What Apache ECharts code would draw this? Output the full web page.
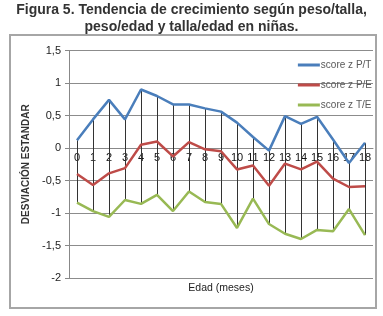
<!DOCTYPE html>
<html><head><meta charset="utf-8">
<script src="https://cdn.jsdelivr.net/npm/echarts@6/dist/echarts.min.js"></script>
<style>html,body{margin:0;padding:0;background:#fff}#c{width:383px;height:316px}</style>
</head><body><div id="c"></div>
<script>
const categories = ['0','1','2','3','4','5','6','7','8','9','10','11','12','13','14','15','16','17','18'];
const scorePT = [0.12,0.44,0.74,0.44,0.90,0.80,0.67,0.67,0.61,0.56,0.39,0.17,-0.04,0.49,0.37,0.48,0.13,-0.23,0.08];
const scorePE = [-0.40,-0.57,-0.39,-0.31,0.05,0.10,-0.13,0.09,-0.02,-0.05,-0.33,-0.27,-0.58,-0.24,-0.33,-0.21,-0.47,-0.60,-0.59];
const scoreTE = [-0.84,-0.97,-1.06,-0.80,-0.86,-0.72,-0.97,-0.67,-0.83,-0.86,-1.23,-0.78,-1.17,-1.32,-1.40,-1.26,-1.28,-0.94,-1.34];
const seriesNames = ['score z P/T','score z P/E','score z T/E'];

const hiLo = categories.map((c,i)=>{
  const v=[scorePT[i],scorePE[i],scoreTE[i]];
  return [i, Math.max(...v), Math.min(...v)];
});
const font = "'Liberation Sans Narrow','Liberation Sans',Arial,sans-serif";
const chart = echarts.init(document.getElementById('c'));
chart.setOption({
  animation:false,
  title:{text:'Figura 5. Tendencia de crecimiento según peso/talla,\npeso/edad y talla/edad en niñas.',
    left:'center', top:-3,
    textStyle:{fontFamily:'Liberation Sans, Arial, sans-serif',fontWeight:'bold',fontSize:14,color:'#333',lineHeight:17}},
  graphic:[{type:'rect',shape:{x:10,y:35,width:366,height:273},style:{fill:'none',stroke:'#a6a6a6',lineWidth:2},z:-1}],
  grid:{left:69,right:10,top:50.5,bottom:38,containLabel:false,outerBoundsMode:'none'},
  legend:{orient:'vertical',right:6,top:55,itemGap:10,itemWidth:22,itemHeight:3,icon:'rect',
    textStyle:{fontFamily:font,fontSize:10,color:'#595959',padding:[0,0,0,-4]},
    data:seriesNames},
  xAxis:{type:'category',data:categories,boundaryGap:true,position:'bottom',offset:-130,
    axisLine:{onZero:false,lineStyle:{color:'#888'}},axisTick:{show:false},
    axisLabel:{margin:4,interval:0,fontFamily:font,fontSize:11,color:'#111'},
    name:'Edad (meses)',nameLocation:'middle',nameGap:135,
    nameTextStyle:{fontFamily:font,fontSize:10.5,color:'#222'}},
  yAxis:{type:'value',min:-2,max:1.5,interval:0.5,
    name:'DESVIACIÓN ESTANDAR',nameLocation:'middle',nameGap:33,
    nameTextStyle:{fontFamily:'Liberation Sans, Arial, sans-serif',fontWeight:'bold',fontSize:10,color:'#333'},
    axisLine:{show:true,lineStyle:{color:'#888'}},
    axisTick:{show:true,length:4,lineStyle:{color:'#888'}},
    axisLabel:{margin:8,fontFamily:font,fontSize:11,color:'#222',
      formatter:v=>String(v).replace('.',',')},
    splitLine:{lineStyle:{color:'#8c8c8c',width:1}}},
  series:[
    {type:'custom',name:'hilo',data:hiLo,z:1,silent:true,
     renderItem:(params,api)=>{
       const p1=api.coord([api.value(0),api.value(1)]);
       const p2=api.coord([api.value(0),api.value(2)]);
       return {type:'line',shape:{x1:Math.round(p1[0])+0.5,y1:p1[1],x2:Math.round(p2[0])+0.5,y2:p2[1]},style:{stroke:'#333',lineWidth:1}};
     }},
    {type:'line',name:seriesNames[0],data:scorePT,symbol:'none',z:3,lineStyle:{color:'#4A7EBB',width:2.5},itemStyle:{color:'#4A7EBB'}},
    {type:'line',name:seriesNames[1],data:scorePE,symbol:'none',z:3,lineStyle:{color:'#BE4B48',width:2.5},itemStyle:{color:'#BE4B48'}},
    {type:'line',name:seriesNames[2],data:scoreTE,symbol:'none',z:3,lineStyle:{color:'#98B954',width:2.5},itemStyle:{color:'#98B954'}}
  ]
});
</script></body></html>
